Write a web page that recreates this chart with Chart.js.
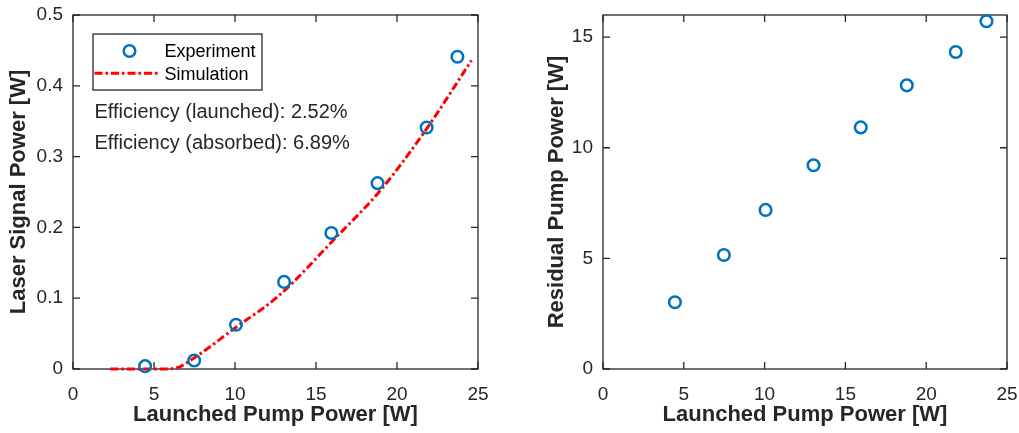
<!DOCTYPE html>
<html><head><meta charset="utf-8">
<script src="https://cdn.jsdelivr.net/npm/chart.js@4"></script>
<style>
html,body{margin:0;padding:0;background:#fff;}
#wrap{position:relative;width:1019px;height:433px;overflow:hidden;}
#c1{position:absolute;left:0;top:0;}
#c2{position:absolute;left:510px;top:0;}
</style></head><body>
<div id="wrap">
<canvas id="c1" width="510" height="433"></canvas>
<canvas id="c2" width="509" height="433"></canvas>
</div>
<script>
// ---- data ----
const launchedPump = [4.45, 7.48, 10.06, 13.03, 15.95, 18.8, 21.83, 23.73];
const laserSignal = [0.004, 0.012, 0.0625, 0.123, 0.192, 0.2625, 0.341, 0.441];
const residualPump = [3.02, 5.15, 7.19, 9.21, 10.92, 12.82, 14.33, 15.72];
const simPump = [2.3, 4, 5.5, 6.3, 7.5, 10, 12.65, 16.2, 19, 21.85, 24.6];
const simSignal = [0, 0, 0, 0.001, 0.016, 0.058, 0.1025, 0.185, 0.253, 0.340, 0.436];
const xTicks = [0, 5, 10, 15, 20, 25];
const yTicksLeft = [0, 0.1, 0.2, 0.3, 0.4, 0.5];
const yTicksRight = [0, 5, 10, 15];
const efficiencyLines = ['Efficiency (launched): 2.52%', 'Efficiency (absorbed): 6.89%'];
const seriesNames = ['Experiment', 'Simulation'];

// ---- styles ----
const FAMILY = '"Liberation Sans", Arial, Helvetica, sans-serif';
const INK = '#262626';
const BLUE = '#0072BD';
const RED = '#FF0000';
const SIM_DASH = [8, 3, 2.5, 3];

const toPts = (xs, ys) => xs.map((x, i) => ({x, y: ys[i]}));

const boxPlugin = {
  id: 'box',
  beforeDatasetsDraw(chart) {
    const {ctx, chartArea: a, scales: {x, y}} = chart;
    ctx.save();
    ctx.strokeStyle = INK;
    ctx.lineWidth = 1.3;
    ctx.strokeRect(a.left, a.top, a.right - a.left, a.bottom - a.top);
    const L = 7;
    ctx.beginPath();
    x.ticks.forEach((t, i) => {
      const px = x.getPixelForTick(i);
      ctx.moveTo(px, a.bottom); ctx.lineTo(px, a.bottom - L);
      ctx.moveTo(px, a.top); ctx.lineTo(px, a.top + L);
    });
    y.ticks.forEach((t, i) => {
      const py = y.getPixelForTick(i);
      ctx.moveTo(a.left, py); ctx.lineTo(a.left + L, py);
      ctx.moveTo(a.right, py); ctx.lineTo(a.right - L, py);
    });
    ctx.stroke();
    ctx.restore();
  }
};

const legendPlugin = {
  id: 'innerLegend',
  afterDatasetsDraw(chart) {
    const {ctx, chartArea: a} = chart;
    const bx = a.left + 20, by = a.top + 19, bw = 169, bh = 56;
    ctx.save();
    ctx.fillStyle = '#fff';
    ctx.fillRect(bx, by, bw, bh);
    ctx.strokeStyle = INK;
    ctx.lineWidth = 1.3;
    ctx.strokeRect(bx, by, bw, bh);
    const ds = chart.data.datasets;
    ctx.beginPath();
    ctx.strokeStyle = ds[0].borderColor;
    ctx.lineWidth = ds[0].borderWidth;
    ctx.arc(bx + 36.5, by + 17, ds[0].pointRadius, 0, Math.PI * 2);
    ctx.stroke();
    ctx.beginPath();
    ctx.strokeStyle = ds[1].borderColor;
    ctx.lineWidth = ds[1].borderWidth;
    ctx.setLineDash(ds[1].borderDash);
    ctx.moveTo(bx + 1.5, by + 39.3);
    ctx.lineTo(bx + 67.5, by + 39.3);
    ctx.stroke();
    ctx.setLineDash([]);
    ctx.fillStyle = '#000';
    ctx.font = '18px ' + FAMILY;
    ctx.textBaseline = 'middle';
    ctx.textAlign = 'left';
    ctx.fillText(ds[0].label, bx + 71.5, by + 18);
    ctx.fillText(ds[1].label, bx + 71.5, by + 41);
    ctx.fillStyle = INK;
    ctx.font = '20px ' + FAMILY;
    ctx.fillText(efficiencyLines[0], a.left + 21.5, a.top + 97);
    ctx.fillText(efficiencyLines[1], a.left + 21.5, a.top + 128.5);
    ctx.restore();
  }
};

function zeroPad(s) { s.paddingLeft = 0; s.paddingRight = 0; s.paddingTop = 0; s.paddingBottom = 0; }

function axisX() {
  return {
    type: 'linear', min: 0, max: 25,
    afterBuildTicks: s => { s.ticks = xTicks.map(v => ({value: v})); },
    afterFit: s => { s.height = 64; zeroPad(s); },
    grid: {display: false, drawTicks: false},
    border: {display: false},
    ticks: {font: {family: FAMILY, size: 19}, color: INK, padding: 14, callback: v => String(v), maxRotation: 0},
    title: {display: true, text: 'Launched Pump Power [W]', color: INK,
            font: {family: FAMILY, size: 22, weight: 'bold'}, padding: {top: 0, bottom: 5}}
  };
}
function axisY(min, max, ticks, width, title, titlePad) {
  return {
    type: 'linear', min, max,
    afterBuildTicks: s => { s.ticks = ticks.map(v => ({value: v})); },
    afterFit: s => { s.width = width; zeroPad(s); },
    grid: {display: false, drawTicks: false},
    border: {display: false},
    ticks: {font: {family: FAMILY, size: 19}, color: INK, padding: 10, callback: v => String(v)},
    title: {display: true, text: title, color: INK,
            font: {family: FAMILY, size: 22, weight: 'bold'}, padding: {top: titlePad, bottom: 0}}
  };
}

const common = {
  responsive: false, animation: false, devicePixelRatio: 1,
  plugins: {legend: {display: false}, tooltip: {enabled: false}},
  events: []
};

new Chart(document.getElementById('c1'), {
  type: 'scatter',
  data: {datasets: [
    {label: seriesNames[0], data: toPts(launchedPump, laserSignal), showLine: false,
     pointStyle: 'circle', pointRadius: 5.8, borderWidth: 2.5, borderColor: BLUE,
     backgroundColor: 'rgba(0,0,0,0)', order: 0, clip: false},
    {label: seriesNames[1], data: toPts(simPump, simSignal), showLine: true,
     pointRadius: 0, borderWidth: 3, borderColor: RED, borderDash: SIM_DASH,
     cubicInterpolationMode: 'monotone', backgroundColor: RED, order: 1, clip: false}
  ]},
  options: Object.assign({}, common, {
    layout: {padding: {left: 0, right: 32, top: 15, bottom: 0}},
    scales: {x: axisX(), y: axisY(0, 0.5, yTicksLeft, 73, 'Laser Signal Power [W]', 6)}
  }),
  plugins: [boxPlugin, legendPlugin]
});

new Chart(document.getElementById('c2'), {
  type: 'scatter',
  data: {datasets: [
    {label: seriesNames[0], data: toPts(launchedPump, residualPump), showLine: false,
     pointStyle: 'circle', pointRadius: 5.8, borderWidth: 2.5, borderColor: BLUE,
     backgroundColor: 'rgba(0,0,0,0)', clip: false}
  ]},
  options: Object.assign({}, common, {
    layout: {padding: {left: 0, right: 12, top: 15, bottom: 0}},
    scales: {x: axisX(), y: axisY(0, 16, yTicksRight, 93, 'Residual Pump Power [W]', 34)}
  }),
  plugins: [boxPlugin]
});
</script>
</body></html>
